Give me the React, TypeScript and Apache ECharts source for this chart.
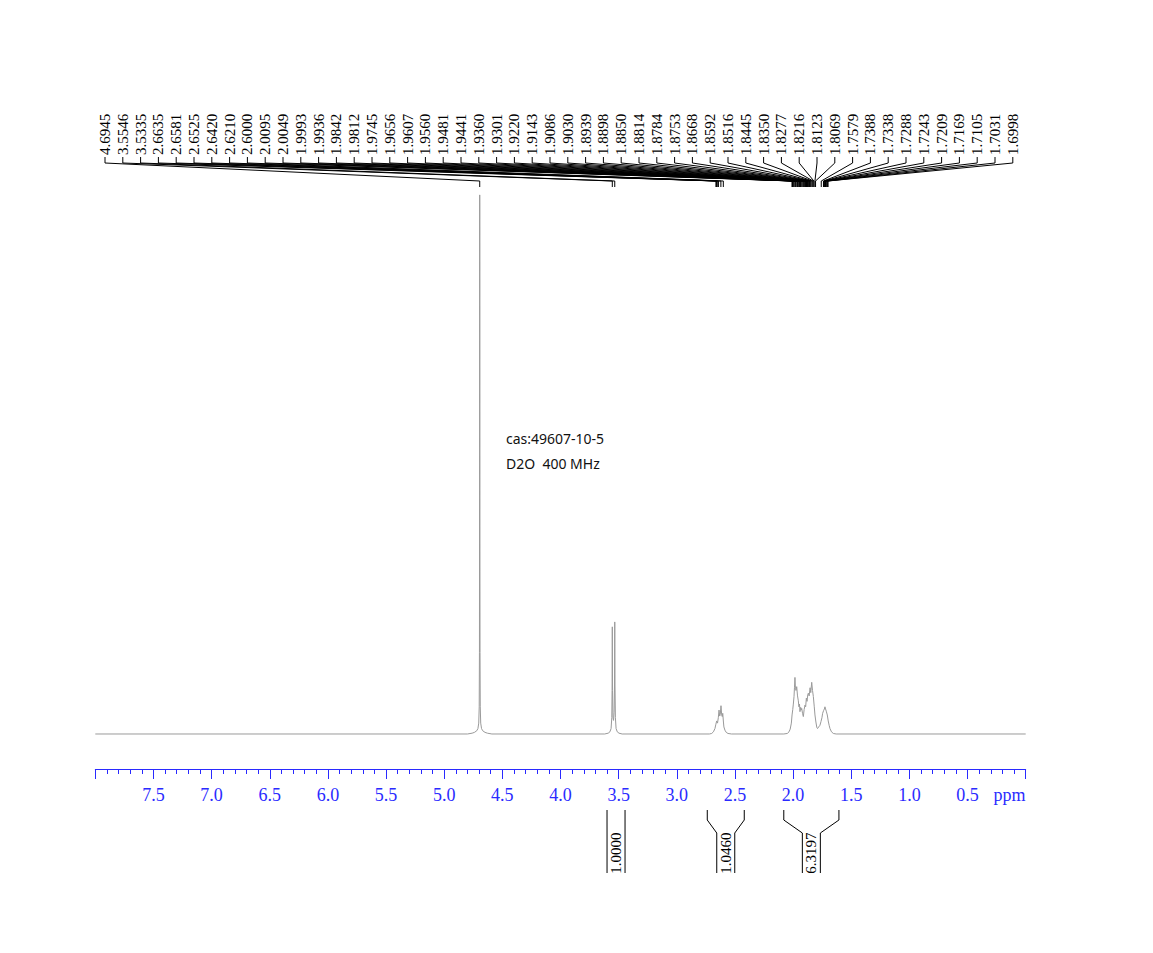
import React, { useEffect, useRef } from "react";
import * as echarts from "echarts";

// ---- data ----
const peakLabels: number[] = [
  4.6945, 3.5546, 3.5335, 2.6635, 2.6581, 2.6525, 2.642, 2.621, 2.6, 2.0095,
  2.0049, 1.9993, 1.9936, 1.9842, 1.9812, 1.9745, 1.9656, 1.9607, 1.956, 1.9481,
  1.9441, 1.936, 1.9301, 1.922, 1.9143, 1.9086, 1.903, 1.8939, 1.8898, 1.885,
  1.8814, 1.8784, 1.8753, 1.8668, 1.8592, 1.8516, 1.8445, 1.835, 1.8277, 1.8216,
  1.8123, 1.8069, 1.7579, 1.7388, 1.7338, 1.7288, 1.7243, 1.7209, 1.7169, 1.7105,
  1.7031, 1.6998,
];

const integralRanges: [number, number][] = [
  [3.6, 3.445],
  [2.738, 2.42],
  [2.08, 1.606],
];
const integralValues: string[] = ["1.0000", "1.0460", "6.3197"];

const annotationLines: string[] = ["cas:49607-10-5", "D2O  400 MHz"];

// spectrum [ppm, intensity]
const spectrumSolvent: [number, number][] = [
  [8.0, 0], [4.8, 0], [4.76, 0.15], [4.74, 0.3], [4.72, 0.6], [4.71, 1.0], [4.703, 2],
  [4.699, 5], [4.697, 15], [4.6955, 50], [4.6945, 99.1], [4.6935, 50], [4.692, 15],
  [4.69, 5], [4.686, 2], [4.679, 1.0], [4.669, 0.6], [4.649, 0.3], [4.629, 0.15], [4.59, 0],
];
const spectrumDoublet: [number, number][] = [
  [3.62, 0], [3.59, 0.15], [3.575, 0.4], [3.565, 1.0], [3.559, 3], [3.5565, 8],
  [3.5546, 19.7], [3.5525, 8], [3.549, 3], [3.544, 2.5], [3.539, 4], [3.5355, 9],
  [3.5335, 20.6], [3.5315, 9], [3.528, 3], [3.522, 1.0], [3.512, 0.4], [3.497, 0.15], [3.47, 0],
];
const spectrumMultipletA: [number, number][] = [
  [2.72, 0], [2.7, 0.1], [2.685, 0.4], [2.672, 1.0], [2.664, 1.8], [2.657, 2.4],
  [2.65, 2.0], [2.643, 3.0], [2.637, 4.4], [2.631, 3.3], [2.626, 3.6], [2.62, 5.2],
  [2.614, 3.5], [2.609, 3.2], [2.605, 3.8], [2.599, 2.2], [2.595, 1.3], [2.592, 1.3],
  [2.586, 0.7], [2.575, 0.3], [2.56, 0.1], [2.53, 0],
];
const spectrumMultipletB: [number, number][] = [
  [2.08, 0], [2.05, 0.1], [2.035, 0.4], [2.025, 0.9], [2.015, 2.0], [2.009, 3.5],
  [2.003, 4.5], [1.998, 5.5], [1.992, 6.9], [1.988, 8.6], [1.984, 10.4], [1.98, 8.4],
  [1.975, 8.0], [1.969, 8.7], [1.962, 7.0], [1.955, 6.1], [1.95, 5.0], [1.945, 5.5],
  [1.941, 4.1], [1.935, 4.9], [1.93, 4.4], [1.926, 4.7], [1.919, 3.8], [1.912, 3.2],
  [1.905, 4.5], [1.898, 5.3], [1.892, 5.0], [1.886, 6.6], [1.88, 6.0], [1.874, 7.2],
  [1.869, 7.5], [1.862, 7.0], [1.854, 8.5], [1.848, 7.6], [1.84, 9.5], [1.833, 8.0],
  [1.826, 6.9], [1.818, 5.0], [1.812, 3.5], [1.804, 2.2], [1.796, 1.2], [1.79, 1.0],
  [1.78, 1.3], [1.769, 1.6], [1.76, 2.3], [1.752, 3.0], [1.746, 3.8], [1.738, 4.3],
  [1.731, 4.6], [1.726, 5.0], [1.721, 4.6], [1.715, 4.2], [1.706, 3.5], [1.698, 2.4],
  [1.69, 1.6], [1.683, 1.0], [1.67, 0.4], [1.654, 0.1], [1.63, 0], [0, 0],
];

const spectrum: [number, number][] = [
  ...spectrumSolvent,
  ...spectrumDoublet,
  ...spectrumMultipletA,
  ...spectrumMultipletB,
];

const BLUE = "#2a2aff";
const SERIF = '"Liberation Serif", "Times New Roman", serif';

export default function App() {
  const ref = useRef<HTMLDivElement>(null);

  useEffect(() => {
    if (!ref.current) return;
    const chart = echarts.init(ref.current, undefined, { renderer: "svg" });
    chart.setOption({
      animation: false,
      backgroundColor: "#ffffff",
      grid: { left: 95.3, right: 127.3, top: 190, bottom: 184, containLabel: false },
      xAxis: {
        type: "value",
        min: 0,
        max: 8,
        inverse: true,
        interval: 0.5,
        axisLine: { show: true, onZero: false, lineStyle: { color: BLUE, width: 1 } },
        axisTick: { show: true, length: 10, lineStyle: { color: BLUE, width: 1 } },
        minorTick: { show: true, splitNumber: 5, length: 5, lineStyle: { color: BLUE, width: 1 } },
        splitLine: { show: false },
        axisLabel: {
          color: BLUE,
          fontFamily: SERIF,
          fontSize: 18,
          margin: 17,
          formatter: (v: number) => (v <= 0.001 || v >= 7.999 ? "" : v.toFixed(1)),
        },
      },
      yAxis: { type: "value", min: -6.434, max: 100, show: false },
      series: [
        {
          type: "line",
          data: spectrum,
          symbol: "none",
          showSymbol: false,
          silent: true,
          lineStyle: { color: "#9a9a9a", width: 1 },
        },
      ],
    });

    const px = (ppm: number) => chart.convertToPixel({ xAxisIndex: 0 }, ppm) as number;

    const graphics: any[] = [];
    const labelStart = 105;
    const labelStep = 17.8;
    peakLabels.forEach((p, i) => {
      const lx = labelStart + i * labelStep;
      const x = px(p);
      graphics.push({
        type: "text",
        x: lx,
        y: 155,
        rotation: Math.PI / 2,
        silent: true,
        style: {
          text: p.toFixed(4),
          font: `15px ${SERIF}`,
          fill: "#000",
          align: "left",
          verticalAlign: "middle",
          textAlign: "left",
          textVerticalAlign: "middle",
        },
      });
      graphics.push({
        type: "polyline",
        silent: true,
        shape: { points: [[lx, 157], [lx, 163], [x, 181], [x, 187]] },
        style: { stroke: "#000", lineWidth: 1, fill: null },
      });
    });

    integralRanges.forEach((r, i) => {
      const xl = px(r[0]);
      const xr = px(r[1]);
      const c = (xl + xr) / 2;
      const il = c - 9;
      const ir = c + 9;
      graphics.push({
        type: "polyline",
        silent: true,
        shape: { points: [[xl, 810], [xl, 820], [il, 833], [il, 873]] },
        style: { stroke: "#000", lineWidth: 1, fill: null },
      });
      graphics.push({
        type: "polyline",
        silent: true,
        shape: { points: [[xr, 810], [xr, 820], [ir, 833], [ir, 873]] },
        style: { stroke: "#000", lineWidth: 1, fill: null },
      });
      graphics.push({
        type: "text",
        x: c,
        y: 853,
        rotation: Math.PI / 2,
        silent: true,
        style: {
          text: integralValues[i],
          font: `15px ${SERIF}`,
          fill: "#000",
          align: "center",
          verticalAlign: "middle",
          textAlign: "center",
          textVerticalAlign: "middle",
        },
      });
    });

    annotationLines.forEach((t, i) => {
      graphics.push({
        type: "text",
        x: 506,
        y: 438 + i * 25.5,
        silent: true,
        style: {
          text: t,
          font: '14px "Noto Sans", "Open Sans", sans-serif',
          fill: "#111",
          align: "left",
          verticalAlign: "middle",
          textAlign: "left",
          textVerticalAlign: "middle",
        },
      });
    });

    graphics.push({
      type: "text",
      x: 1025.5,
      y: 795,
      silent: true,
      style: {
        text: "ppm",
        font: `18px ${SERIF}`,
        fill: BLUE,
        align: "right",
        verticalAlign: "middle",
        textAlign: "right",
        textVerticalAlign: "middle",
      },
    });

    chart.setOption({ graphic: graphics });

    return () => chart.dispose();
  }, []);

  return (
    <div
      ref={ref}
      style={{ position: "fixed", left: 0, top: 0, width: 1153, height: 953, background: "#fff" }}
    />
  );
}
